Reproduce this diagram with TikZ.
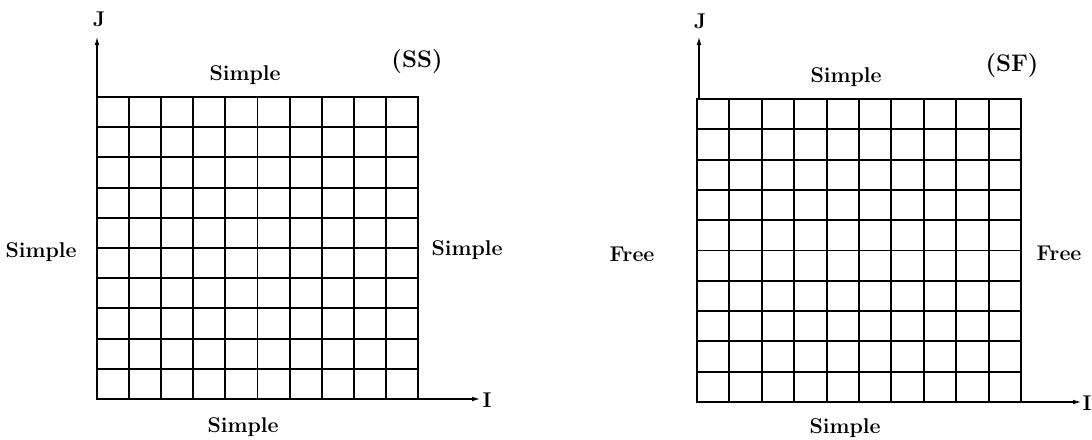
\documentclass[tikz,border=0pt]{standalone}
\usetikzlibrary{arrows.meta}
\begin{document}
\begin{tikzpicture}[x=0.75pt,y=-0.75pt,
  lbl/.style={font=\fontsize{16}{19}\selectfont\bfseries, inner sep=0pt},
  tag/.style={font=\fontsize{18}{21}\selectfont\bfseries, inner sep=0pt},
  gridline/.style={line width=1.4pt},
  border/.style={line width=2pt, line join=miter},
  axis/.style={line width=0.8pt, -{Latex[length=6pt,width=3.5pt]}}]
\useasboundingbox (0,0) rectangle (1092,439);
% ---------- left panel (SS) ----------
\foreach \i in {1,...,9}{
  \draw[gridline] ({97+32.1*\i},97) -- ({97+32.1*\i},399);
  \draw[gridline] (97,{97+30.2*\i}) -- (418,{97+30.2*\i});
}
\draw[border] (97,97) rectangle (418,399);
\coordinate (tlL) at (97,97);
\coordinate (brL) at (418,399);
\coordinate (jL) at (97,37);
\coordinate (iL) at (480,399);
\draw[axis] (tlL) -- (jL);
\draw[axis] (brL) -- (iL);
\node[lbl] (JL) at (99,19) {J};
\node[lbl] (IL) at (487,400) {I};
\node[lbl] (topL) at (245,75) {Simple};
\node[tag] (ssL) at (417,62) {(SS)};
\node[lbl] (leftL) at (41,252) {Simple};
\node[lbl] (rightL) at (467,250) {Simple};
\node[lbl] (botL) at (243,427) {Simple};
% ---------- right panel (SF) ----------
\foreach \i in {1,...,9}{
  \draw[gridline] ({697+32.4*\i},99) -- ({697+32.4*\i},402);
  \draw[gridline] (697,{99+30.3*\i}) -- (1021,{99+30.3*\i});
}
\draw[border] (697,99) rectangle (1021,402);
\coordinate (tlR) at (699,99);
\coordinate (brR) at (1021,402);
\coordinate (jR) at (699,37);
\coordinate (iR) at (1081,402);
\draw[axis] (tlR) -- (jR);
\draw[axis] (brR) -- (iR);
\node[lbl] (JR) at (700,21) {J};
\node[lbl] (IR) at (1087,403) {I};
\node[lbl] (topR) at (846,77) {Simple};
\node[tag] (sfR) at (1012,66) {(SF)};
\node[lbl] (leftR) at (632,254) {Free};
\node[lbl] (rightR) at (1059,253) {Free};
\node[lbl] (botR) at (845,428) {Simple};
\end{tikzpicture}
\end{document}
